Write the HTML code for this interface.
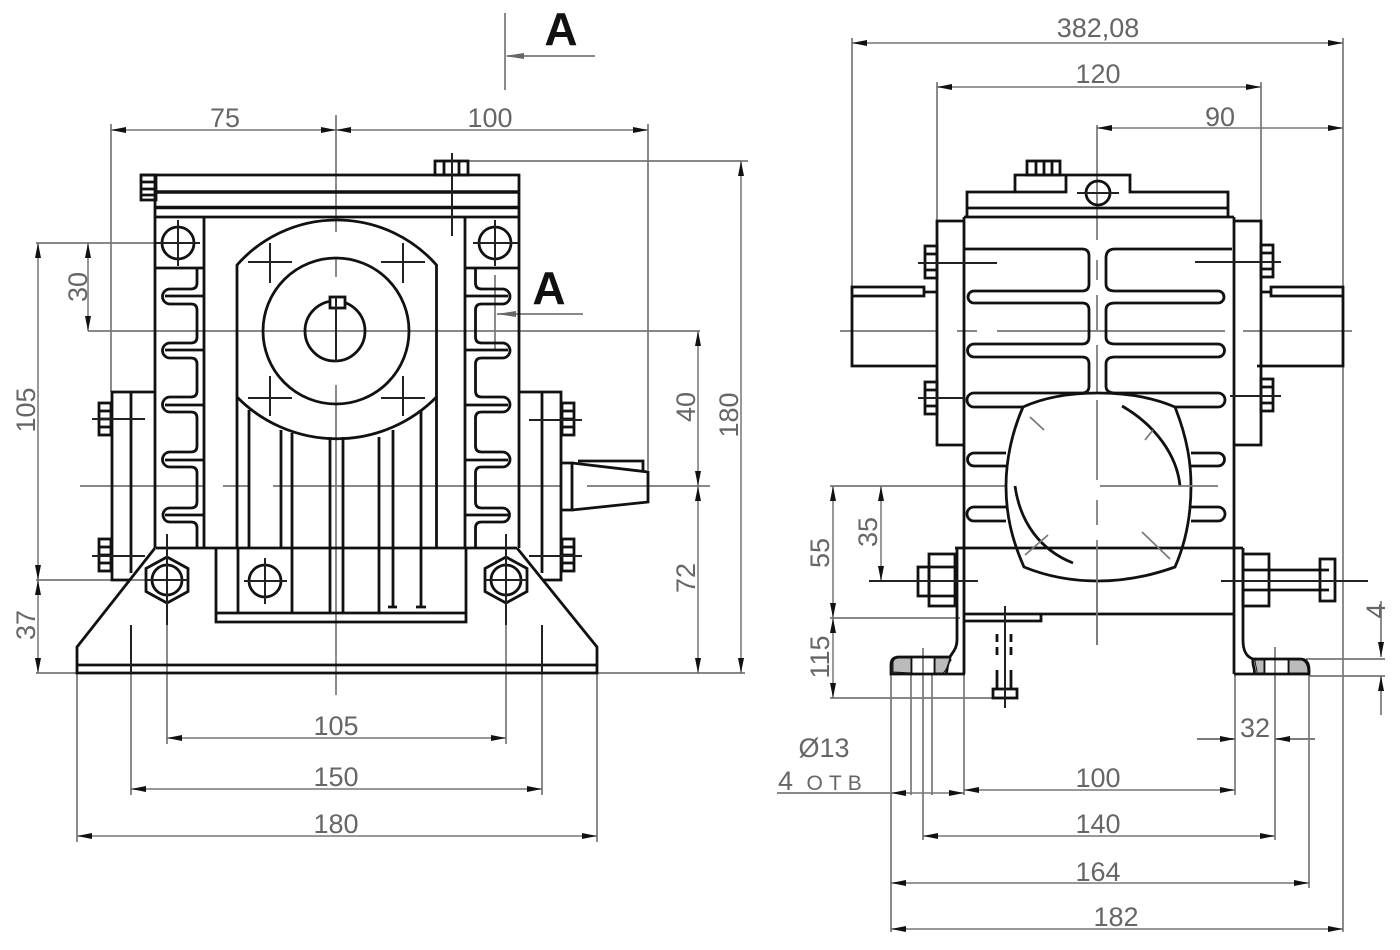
<!DOCTYPE html>
<html>
<head>
<meta charset="utf-8">
<style>
html,body{margin:0;padding:0;background:#fff;width:1400px;height:950px;overflow:hidden}
svg{display:block}
text{font-family:"Liberation Sans","DejaVu Sans",sans-serif;font-size:27px;fill:#666;text-anchor:middle}
.k{stroke:#111;stroke-width:2.8;fill:none}
.k2{stroke:#111;stroke-width:3.6;fill:none}
.t{stroke:#222;stroke-width:2;fill:none}
.g{stroke:#777;stroke-width:1.7;fill:none}
.d{stroke:#777;stroke-width:1.5;fill:none;marker-start:url(#a);marker-end:url(#a)}
</style>
</head>
<body>
<svg width="1400" height="950" viewBox="0 0 1400 950" xmlns="http://www.w3.org/2000/svg">
<defs>
<marker id="a" markerUnits="userSpaceOnUse" markerWidth="16" markerHeight="8" refX="15" refY="4" orient="auto-start-reverse">
<path d="M0 1 L15 4 L0 7 Z" fill="#111"/>
</marker>
<path id="fins" d="M197 268V283Q197 289 191 289H170A7.5 7.5 0 0 0 170 304H191Q197 304 197 310V337Q197 343 191 343H170A7.5 7.5 0 0 0 170 358H191Q197 358 197 364V391Q197 397 191 397H170A7.5 7.5 0 0 0 170 412H191Q197 412 197 418V446Q197 452 191 452H170A7.5 7.5 0 0 0 170 467H191Q197 467 197 473V502Q197 508 191 508H170A7 7 0 0 0 170 522H191Q197 522 197 528V548"/>
<g id="boltL"><rect x="99" y="0" width="12" height="32"/><path d="M99 8H111M99 16H111M99 24H111"/></g>
<g id="nut"><path d="M0 -23L21 -11.500V11.500L0 23L-21 11.500V-11.500Z"/><circle r="15"/></g>
</defs>

<!-- ===== LEFT VIEW: gray dimension lines ===== -->
<g class="g">
<path d="M336 115V232M336 257V277M336 385V695"/>
<path d="M88 331H700M80 486H204M223 486H250M273 486H561M587 486H710"/>
<path d="M111 124V392M648 124V470"/>
<path d="M445 161H748"/>
<path d="M36 243H155M36 580H150M36 673H78M597 673H745"/>
<path d="M77 673V842M597 673V842M167 625V744M506 625V744M131 673V795M542 673V795"/>
<path d="M505 13V90M495 275V350"/>
<path d="M497 314H583"/>
<path d="M507 56H595"/>
</g>
<path d="M505 56L524 53V59Z" fill="#666"/>
<path d="M497 314L516 311V317Z" fill="#666"/>
<g class="d">
<path d="M111 130H336"/><path d="M336 130H648"/>
<path d="M741 161V673"/>
<path d="M698 331V486"/><path d="M698 486V673"/>
<path d="M88 243V331"/>
<path d="M38 243V580"/><path d="M38 580V673"/>
<path d="M167 738H506"/><path d="M131 789H542"/><path d="M77 836H597"/>
</g>

<!-- ===== LEFT VIEW: body ===== -->
<g class="k">
<path d="M141 175H519V548"/>
<rect x="141" y="175" width="15" height="25"/>
<path d="M141 182H156M141 189H156M141 195H156"/>
<path d="M155 175V548"/>
<path d="M155 217H518"/>
<path d="M204 217V548M465 217V548"/>
<path d="M155 268H204M465 268H518"/>
<circle cx="178" cy="243" r="16"/><circle cx="495" cy="243" r="16"/>
<use href="#fins"/>
<use href="#fins" transform="translate(672.500,0) scale(-1,1)"/>
<path d="M165 296H204M165 350H204M165 405H204M165 460H204M165 515H204"/>
<path d="M508 296H465M508 350H465M508 405H465M508 460H465M508 515H465"/>
<!-- housing -->
<path d="M237 548V265A133 133 0 0 1 436.500 265V548"/>
<path d="M237 397A140 140 0 0 0 436.500 397"/>
<circle cx="336" cy="331" r="73"/>
<circle cx="335" cy="331" r="30"/>
<rect x="330" y="297" width="15" height="11" fill="#fff"/>
<path d="M249 410V548M281 430V548M292 433V613M330 437V613M343 437V613M379 437V613M393 430V607M421 410V607"/>
<path d="M388 607H397M416 607H426"/>
<path d="M216 548V622H466V548M216 613H466M238 548V613"/>
<circle cx="265" cy="581" r="16"/>
<path d="M156 548H517"/>
<!-- base -->
<path d="M155 548L77 647V673H597V647L517 548"/>
<path d="M77 665H597"/>
<!-- side flanges -->
<path d="M155 392H112V580H130M131 392V573"/>
<path d="M518 392H561V580H543M542 392V573"/>
<!-- shaft -->
<path d="M561 463H572V510H561"/>
<path d="M572 463L648 472V502L572 510"/>
<path d="M578 461H643V471"/>
</g>
<path class="k2" d="M156 192H519M156 207.500H519"/>
<g class="k" transform="translate(0,403)"><use href="#boltL"/></g>
<g class="k" transform="translate(0,539)"><use href="#boltL"/></g>
<g class="k" transform="translate(673,403) scale(-1,1)"><use href="#boltL"/></g>
<g class="k" transform="translate(673,539) scale(-1,1)"><use href="#boltL"/></g>
<g class="k" transform="translate(167,580)"><use href="#nut"/></g>
<g class="k" transform="translate(506,580)"><use href="#nut"/></g>
<rect x="435" y="161" width="33" height="14" class="k"/>
<path d="M444 161V175M459 161V175" class="k"/>
<g class="t">
<path d="M452 153V236"/>
<path d="M178 220V266M156 243H200M495 220V266M473 243H518"/>
<path d="M248 262H292M270 243V283M248 398H292M270 376V416M381 262H425M403 243V283M381 398H425M403 376V416"/>
<path d="M92 419H145M92 556H145M529 420H582M529 556H582"/>
<path d="M244 581H287M265 558V604"/>
<path d="M167 534V625M506 534V625"/>
<path d="M146 580H188M485 580H527"/>
<path d="M131 625V673M542 625V673"/>
<path d="M336 297V362"/>
</g>

<!-- ===== RIGHT VIEW: gray lines ===== -->
<g class="g">
<path d="M852 38V286M937 82V221M1261 82V221M1343 38V932"/>
<path d="M1097 125V240M1097 260V280M1097 295V330M1097 345V645"/>
<path d="M840 331H936M957 331H977M997 331H1225M1243 331H1352"/>
<path d="M830 486H1015"/>
<path d="M830 618H960M830 698H1005"/>
<path d="M1306 659H1385M1309 676H1385"/>
<path d="M891 674V932M911 674V795M923 648V840M932 674V795M964 674V795M1235 674V795M1275 647V840M1309 674V888"/>
<path d="M1197 739H1235M1275 739H1315"/>
<path d="M777 793H890"/>
</g>
<g class="d">
<path d="M852 43H1343"/><path d="M937 87H1261"/><path d="M1097 128H1343"/>
<path d="M881 486V581"/><path d="M833 486V618"/><path d="M833 618V698"/>
<path d="M964 790H1235"/><path d="M923 836H1275"/><path d="M891 883H1309"/><path d="M891 929H1343"/>
<path d="M891 793H964"/>
</g>
<path d="M1381 601V657" class="g" style="marker-end:url(#a)"/>
<path d="M1381 715V676" class="g" style="marker-end:url(#a)"/>
<path d="M1197 739H1235" class="g" style="marker-end:url(#a)"/>
<path d="M1315 739H1275" class="g" style="marker-end:url(#a)"/>

<!-- ===== RIGHT VIEW: body ===== -->
<g class="k">
<path d="M964 217H1234M964 217V674M1234 217V674"/>
<path d="M967 217V192H1015V175H1130V192H1228V217"/>
<path d="M1015 192H1066V175"/>
<path d="M967 208H1228"/>
<rect x="1027" y="161" width="33" height="14"/>
<path d="M1036 161V175M1044 161V175M1052 161V175"/>
<circle cx="1098" cy="193" r="12"/>
<!-- flanges -->
<path d="M964 221H937V445H964M1234 221H1261V445H1234"/>
<rect x="925" y="246" width="12" height="32"/><path d="M925 254H937M925 270H937"/>
<rect x="925" y="382" width="12" height="32"/><path d="M925 390H937M925 406H937"/>
<rect x="1261" y="245" width="12" height="32"/><path d="M1261 253H1273M1261 269H1273"/>
<rect x="1261" y="379" width="12" height="32"/><path d="M1261 387H1273M1261 403H1273"/>
<!-- shafts -->
<path d="M937 366H852V287H924V296H852M924 292H937"/>
<path d="M1257 366H1343V287H1271V296H1343M1271 292H1261"/>
<!-- fins -->
<path d="M965 249H1082Q1089 249 1089 256V284Q1089 291 1082 291H974A6 6 0 0 0 974 303H1082Q1089 303 1089 310V337Q1089 344 1082 344H974A6.500 6.500 0 0 0 974 357H1082Q1089 357 1089 364V386Q1089 393 1082 393H974A7 7 0 0 0 974 407H1023"/>
<path d="M1232 249H1115Q1106 249 1106 258V284Q1106 291 1115 291H1218A6 6 0 0 1 1218 303H1115Q1106 303 1106 310V337Q1106 344 1115 344H1218A6.500 6.500 0 0 1 1218 357H1115Q1106 357 1106 364V386Q1106 393 1115 393H1218A7 7 0 0 1 1218 407H1175"/>
<path d="M1006 453H974A6.500 6.500 0 0 0 974 466H1006M1006 507H974A7 7 0 0 0 974 521H1006"/>
<path d="M1191 453H1218A6.500 6.500 0 0 1 1218 466H1191M1191 507H1218A7 7 0 0 1 1218 521H1191"/>
<!-- wheel -->
<path d="M1023 407C1045 397 1070 393 1098 393C1126 393 1152 397 1175 407C1188 440 1191 465 1191 486C1191 515 1186 542 1175 567C1150 576 1125 581 1098 581C1070 581 1046 576 1024 567C1012 540 1006 515 1006 486C1006 460 1012 432 1023 407Z" fill="#fff"/>
<path d="M1122 406C1155 425 1177 455 1180 486"/>
<path d="M1015 486C1020 522 1040 550 1073 563"/>
<!-- base -->
<path d="M955 548H1024M1175 548H1243"/>
<path d="M965 614H1234"/>
<path d="M965 621H1041V614"/>
<path d="M957 548V640C957 652 948 655 950 660C946 665 948 670 946 674"/>
<path d="M965 674H891V665Q891 657 899 657H950"/>
<path d="M911 657V674M935 657V674"/>
<path d="M1243 548V640C1243 652 1247 657 1253 659H1300Q1309 659 1309 670V674H1234"/>
<path d="M1253 660C1252 666 1256 670 1254 674M1264 659V674M1289 659V674"/>
<!-- bolts -->
<rect x="929" y="554" width="26" height="52"/>
<path d="M929 567H955M929 596H955"/>
<rect x="918" y="567" width="11" height="29"/>
<rect x="1243" y="554" width="26" height="52"/>
<path d="M1243 570H1329M1243 590H1329"/>
<rect x="1320" y="559" width="15" height="42"/>
<rect x="993" y="689" width="24" height="9"/>
<path d="M997 670V689M1011 670V689"/>
<path d="M997 634V655M1011 634V655" stroke-dasharray="8 5"/>
</g>
<path d="M1024 548H1175" class="k"/>
<path d="M893 672V662Q894 658 899 658H911V673ZM935 658H950C948 664 947 670 943 673H935Z" fill="#bbb" stroke="#111" stroke-width="1"/>
<path d="M1255 660H1264V673H1257C1257 668 1255 665 1255 660ZM1289 660H1301Q1308 661 1308 673H1289Z" fill="#bbb" stroke="#111" stroke-width="1"/>
<g class="g">
<path d="M1097 400V480M1097 500V525M1097 540V645"/>
<path d="M1100 486H1218"/>
<path d="M1030 417L1044 430M1145 440L1153 430M1025 555L1048 535M1142 532L1170 559"/>
</g>
<g class="t">
<path d="M918 263H997M918 398H964M1195 262H1281M1230 396H1281"/>
<path d="M1077 193H1119"/>
<path d="M869 581H978M1221 581H1368"/>
<path d="M1005 606V708"/>
</g>

<!-- ===== TEXT ===== -->
<text x="225" y="127">75</text>
<text x="490" y="127">100</text>
<text transform="translate(738,415) rotate(-90)">180</text>
<text transform="translate(695,407) rotate(-90)">40</text>
<text transform="translate(695,578) rotate(-90)">72</text>
<text transform="translate(87,287) rotate(-90)">30</text>
<text transform="translate(35,410) rotate(-90)">105</text>
<text transform="translate(35,625) rotate(-90)">37</text>
<text x="336" y="735">105</text>
<text x="336" y="786">150</text>
<text x="336" y="833">180</text>
<text x="561" y="45" style="font-size:46px;font-weight:bold;fill:#111">A</text>
<text x="549" y="304" style="font-size:46px;font-weight:bold;fill:#111">A</text>

<text x="1098" y="37">382,08</text>
<text x="1098" y="83">120</text>
<text x="1220" y="126">90</text>
<text transform="translate(829,553) rotate(-90)">55</text>
<text transform="translate(877,532) rotate(-90)">35</text>
<text transform="translate(829,657) rotate(-90)">115</text>
<text transform="translate(1385,611) rotate(-90)">4</text>
<text x="824" y="757">Ø13</text>
<text x="778" y="790" style="text-anchor:start;letter-spacing:3px">4 <tspan style="font-size:21px;letter-spacing:6px">ОТВ</tspan></text>
<text x="1098" y="787">100</text>
<text x="1098" y="833">140</text>
<text x="1098" y="881">164</text>
<text x="1116" y="926">182</text>
<text x="1255" y="737">32</text>
</svg>
</body>
</html>
